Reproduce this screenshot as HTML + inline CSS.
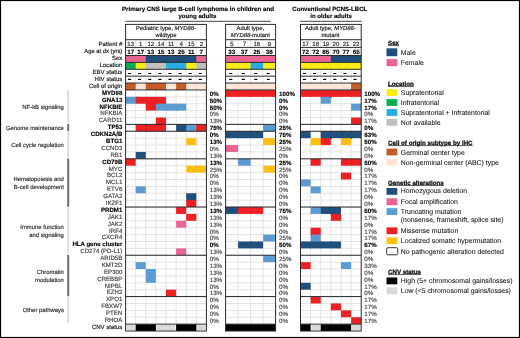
<!DOCTYPE html>
<html><head><meta charset="utf-8"><title>PCNS LBCL oncoprint</title>
<style>html,body{margin:0;padding:0;background:#fff;}body{width:520px;height:338px;overflow:hidden;font-family:"Liberation Sans",sans-serif;}svg{display:block;will-change:transform;text-rendering:geometricPrecision;}</style>
</head><body>
<svg width="520" height="338" viewBox="0 0 520 338" font-family="'Liberation Sans', sans-serif"><rect x="0" y="0" width="520" height="338" fill="#fff"/>
<line x1="135.70" y1="39.70" x2="135.70" y2="331.02" stroke="#e4e4e4" stroke-width="1"/>
<line x1="145.80" y1="39.70" x2="145.80" y2="331.02" stroke="#e4e4e4" stroke-width="1"/>
<line x1="155.90" y1="39.70" x2="155.90" y2="331.02" stroke="#e4e4e4" stroke-width="1"/>
<line x1="166.00" y1="39.70" x2="166.00" y2="331.02" stroke="#e4e4e4" stroke-width="1"/>
<line x1="176.10" y1="39.70" x2="176.10" y2="331.02" stroke="#e4e4e4" stroke-width="1"/>
<line x1="186.20" y1="39.70" x2="186.20" y2="331.02" stroke="#e4e4e4" stroke-width="1"/>
<line x1="196.30" y1="39.70" x2="196.30" y2="331.02" stroke="#e4e4e4" stroke-width="1"/>
<line x1="125.60" y1="96.83" x2="206.40" y2="96.83" stroke="#e4e4e4" stroke-width="1"/>
<line x1="125.60" y1="103.72" x2="206.40" y2="103.72" stroke="#e4e4e4" stroke-width="1"/>
<line x1="125.60" y1="110.60" x2="206.40" y2="110.60" stroke="#e4e4e4" stroke-width="1"/>
<line x1="125.60" y1="117.49" x2="206.40" y2="117.49" stroke="#e4e4e4" stroke-width="1"/>
<line x1="125.60" y1="124.38" x2="206.40" y2="124.38" stroke="#e4e4e4" stroke-width="1"/>
<line x1="125.60" y1="131.27" x2="206.40" y2="131.27" stroke="#e4e4e4" stroke-width="1"/>
<line x1="125.60" y1="138.16" x2="206.40" y2="138.16" stroke="#e4e4e4" stroke-width="1"/>
<line x1="125.60" y1="145.04" x2="206.40" y2="145.04" stroke="#e4e4e4" stroke-width="1"/>
<line x1="125.60" y1="151.93" x2="206.40" y2="151.93" stroke="#e4e4e4" stroke-width="1"/>
<line x1="125.60" y1="158.82" x2="206.40" y2="158.82" stroke="#e4e4e4" stroke-width="1"/>
<line x1="125.60" y1="165.71" x2="206.40" y2="165.71" stroke="#e4e4e4" stroke-width="1"/>
<line x1="125.60" y1="172.60" x2="206.40" y2="172.60" stroke="#e4e4e4" stroke-width="1"/>
<line x1="125.60" y1="179.48" x2="206.40" y2="179.48" stroke="#e4e4e4" stroke-width="1"/>
<line x1="125.60" y1="186.37" x2="206.40" y2="186.37" stroke="#e4e4e4" stroke-width="1"/>
<line x1="125.60" y1="193.26" x2="206.40" y2="193.26" stroke="#e4e4e4" stroke-width="1"/>
<line x1="125.60" y1="200.15" x2="206.40" y2="200.15" stroke="#e4e4e4" stroke-width="1"/>
<line x1="125.60" y1="207.04" x2="206.40" y2="207.04" stroke="#e4e4e4" stroke-width="1"/>
<line x1="125.60" y1="213.92" x2="206.40" y2="213.92" stroke="#e4e4e4" stroke-width="1"/>
<line x1="125.60" y1="220.81" x2="206.40" y2="220.81" stroke="#e4e4e4" stroke-width="1"/>
<line x1="125.60" y1="227.70" x2="206.40" y2="227.70" stroke="#e4e4e4" stroke-width="1"/>
<line x1="125.60" y1="234.59" x2="206.40" y2="234.59" stroke="#e4e4e4" stroke-width="1"/>
<line x1="125.60" y1="241.48" x2="206.40" y2="241.48" stroke="#e4e4e4" stroke-width="1"/>
<line x1="125.60" y1="248.36" x2="206.40" y2="248.36" stroke="#e4e4e4" stroke-width="1"/>
<line x1="125.60" y1="255.25" x2="206.40" y2="255.25" stroke="#e4e4e4" stroke-width="1"/>
<line x1="125.60" y1="262.14" x2="206.40" y2="262.14" stroke="#e4e4e4" stroke-width="1"/>
<line x1="125.60" y1="269.03" x2="206.40" y2="269.03" stroke="#e4e4e4" stroke-width="1"/>
<line x1="125.60" y1="275.92" x2="206.40" y2="275.92" stroke="#e4e4e4" stroke-width="1"/>
<line x1="125.60" y1="282.80" x2="206.40" y2="282.80" stroke="#e4e4e4" stroke-width="1"/>
<line x1="125.60" y1="289.69" x2="206.40" y2="289.69" stroke="#e4e4e4" stroke-width="1"/>
<line x1="125.60" y1="296.58" x2="206.40" y2="296.58" stroke="#e4e4e4" stroke-width="1"/>
<line x1="125.60" y1="303.47" x2="206.40" y2="303.47" stroke="#e4e4e4" stroke-width="1"/>
<line x1="125.60" y1="310.36" x2="206.40" y2="310.36" stroke="#e4e4e4" stroke-width="1"/>
<line x1="125.60" y1="317.24" x2="206.40" y2="317.24" stroke="#e4e4e4" stroke-width="1"/>
<line x1="238.10" y1="39.70" x2="238.10" y2="331.02" stroke="#e4e4e4" stroke-width="1"/>
<line x1="250.60" y1="39.70" x2="250.60" y2="331.02" stroke="#e4e4e4" stroke-width="1"/>
<line x1="263.10" y1="39.70" x2="263.10" y2="331.02" stroke="#e4e4e4" stroke-width="1"/>
<line x1="225.60" y1="96.83" x2="275.60" y2="96.83" stroke="#e4e4e4" stroke-width="1"/>
<line x1="225.60" y1="103.72" x2="275.60" y2="103.72" stroke="#e4e4e4" stroke-width="1"/>
<line x1="225.60" y1="110.60" x2="275.60" y2="110.60" stroke="#e4e4e4" stroke-width="1"/>
<line x1="225.60" y1="117.49" x2="275.60" y2="117.49" stroke="#e4e4e4" stroke-width="1"/>
<line x1="225.60" y1="124.38" x2="275.60" y2="124.38" stroke="#e4e4e4" stroke-width="1"/>
<line x1="225.60" y1="131.27" x2="275.60" y2="131.27" stroke="#e4e4e4" stroke-width="1"/>
<line x1="225.60" y1="138.16" x2="275.60" y2="138.16" stroke="#e4e4e4" stroke-width="1"/>
<line x1="225.60" y1="145.04" x2="275.60" y2="145.04" stroke="#e4e4e4" stroke-width="1"/>
<line x1="225.60" y1="151.93" x2="275.60" y2="151.93" stroke="#e4e4e4" stroke-width="1"/>
<line x1="225.60" y1="158.82" x2="275.60" y2="158.82" stroke="#e4e4e4" stroke-width="1"/>
<line x1="225.60" y1="165.71" x2="275.60" y2="165.71" stroke="#e4e4e4" stroke-width="1"/>
<line x1="225.60" y1="172.60" x2="275.60" y2="172.60" stroke="#e4e4e4" stroke-width="1"/>
<line x1="225.60" y1="179.48" x2="275.60" y2="179.48" stroke="#e4e4e4" stroke-width="1"/>
<line x1="225.60" y1="186.37" x2="275.60" y2="186.37" stroke="#e4e4e4" stroke-width="1"/>
<line x1="225.60" y1="193.26" x2="275.60" y2="193.26" stroke="#e4e4e4" stroke-width="1"/>
<line x1="225.60" y1="200.15" x2="275.60" y2="200.15" stroke="#e4e4e4" stroke-width="1"/>
<line x1="225.60" y1="207.04" x2="275.60" y2="207.04" stroke="#e4e4e4" stroke-width="1"/>
<line x1="225.60" y1="213.92" x2="275.60" y2="213.92" stroke="#e4e4e4" stroke-width="1"/>
<line x1="225.60" y1="220.81" x2="275.60" y2="220.81" stroke="#e4e4e4" stroke-width="1"/>
<line x1="225.60" y1="227.70" x2="275.60" y2="227.70" stroke="#e4e4e4" stroke-width="1"/>
<line x1="225.60" y1="234.59" x2="275.60" y2="234.59" stroke="#e4e4e4" stroke-width="1"/>
<line x1="225.60" y1="241.48" x2="275.60" y2="241.48" stroke="#e4e4e4" stroke-width="1"/>
<line x1="225.60" y1="248.36" x2="275.60" y2="248.36" stroke="#e4e4e4" stroke-width="1"/>
<line x1="225.60" y1="255.25" x2="275.60" y2="255.25" stroke="#e4e4e4" stroke-width="1"/>
<line x1="225.60" y1="262.14" x2="275.60" y2="262.14" stroke="#e4e4e4" stroke-width="1"/>
<line x1="225.60" y1="269.03" x2="275.60" y2="269.03" stroke="#e4e4e4" stroke-width="1"/>
<line x1="225.60" y1="275.92" x2="275.60" y2="275.92" stroke="#e4e4e4" stroke-width="1"/>
<line x1="225.60" y1="282.80" x2="275.60" y2="282.80" stroke="#e4e4e4" stroke-width="1"/>
<line x1="225.60" y1="289.69" x2="275.60" y2="289.69" stroke="#e4e4e4" stroke-width="1"/>
<line x1="225.60" y1="296.58" x2="275.60" y2="296.58" stroke="#e4e4e4" stroke-width="1"/>
<line x1="225.60" y1="303.47" x2="275.60" y2="303.47" stroke="#e4e4e4" stroke-width="1"/>
<line x1="225.60" y1="310.36" x2="275.60" y2="310.36" stroke="#e4e4e4" stroke-width="1"/>
<line x1="225.60" y1="317.24" x2="275.60" y2="317.24" stroke="#e4e4e4" stroke-width="1"/>
<line x1="310.62" y1="39.70" x2="310.62" y2="331.02" stroke="#e4e4e4" stroke-width="1"/>
<line x1="320.73" y1="39.70" x2="320.73" y2="331.02" stroke="#e4e4e4" stroke-width="1"/>
<line x1="330.85" y1="39.70" x2="330.85" y2="331.02" stroke="#e4e4e4" stroke-width="1"/>
<line x1="340.97" y1="39.70" x2="340.97" y2="331.02" stroke="#e4e4e4" stroke-width="1"/>
<line x1="351.08" y1="39.70" x2="351.08" y2="331.02" stroke="#e4e4e4" stroke-width="1"/>
<line x1="300.50" y1="96.83" x2="361.20" y2="96.83" stroke="#e4e4e4" stroke-width="1"/>
<line x1="300.50" y1="103.72" x2="361.20" y2="103.72" stroke="#e4e4e4" stroke-width="1"/>
<line x1="300.50" y1="110.60" x2="361.20" y2="110.60" stroke="#e4e4e4" stroke-width="1"/>
<line x1="300.50" y1="117.49" x2="361.20" y2="117.49" stroke="#e4e4e4" stroke-width="1"/>
<line x1="300.50" y1="124.38" x2="361.20" y2="124.38" stroke="#e4e4e4" stroke-width="1"/>
<line x1="300.50" y1="131.27" x2="361.20" y2="131.27" stroke="#e4e4e4" stroke-width="1"/>
<line x1="300.50" y1="138.16" x2="361.20" y2="138.16" stroke="#e4e4e4" stroke-width="1"/>
<line x1="300.50" y1="145.04" x2="361.20" y2="145.04" stroke="#e4e4e4" stroke-width="1"/>
<line x1="300.50" y1="151.93" x2="361.20" y2="151.93" stroke="#e4e4e4" stroke-width="1"/>
<line x1="300.50" y1="158.82" x2="361.20" y2="158.82" stroke="#e4e4e4" stroke-width="1"/>
<line x1="300.50" y1="165.71" x2="361.20" y2="165.71" stroke="#e4e4e4" stroke-width="1"/>
<line x1="300.50" y1="172.60" x2="361.20" y2="172.60" stroke="#e4e4e4" stroke-width="1"/>
<line x1="300.50" y1="179.48" x2="361.20" y2="179.48" stroke="#e4e4e4" stroke-width="1"/>
<line x1="300.50" y1="186.37" x2="361.20" y2="186.37" stroke="#e4e4e4" stroke-width="1"/>
<line x1="300.50" y1="193.26" x2="361.20" y2="193.26" stroke="#e4e4e4" stroke-width="1"/>
<line x1="300.50" y1="200.15" x2="361.20" y2="200.15" stroke="#e4e4e4" stroke-width="1"/>
<line x1="300.50" y1="207.04" x2="361.20" y2="207.04" stroke="#e4e4e4" stroke-width="1"/>
<line x1="300.50" y1="213.92" x2="361.20" y2="213.92" stroke="#e4e4e4" stroke-width="1"/>
<line x1="300.50" y1="220.81" x2="361.20" y2="220.81" stroke="#e4e4e4" stroke-width="1"/>
<line x1="300.50" y1="227.70" x2="361.20" y2="227.70" stroke="#e4e4e4" stroke-width="1"/>
<line x1="300.50" y1="234.59" x2="361.20" y2="234.59" stroke="#e4e4e4" stroke-width="1"/>
<line x1="300.50" y1="241.48" x2="361.20" y2="241.48" stroke="#e4e4e4" stroke-width="1"/>
<line x1="300.50" y1="248.36" x2="361.20" y2="248.36" stroke="#e4e4e4" stroke-width="1"/>
<line x1="300.50" y1="255.25" x2="361.20" y2="255.25" stroke="#e4e4e4" stroke-width="1"/>
<line x1="300.50" y1="262.14" x2="361.20" y2="262.14" stroke="#e4e4e4" stroke-width="1"/>
<line x1="300.50" y1="269.03" x2="361.20" y2="269.03" stroke="#e4e4e4" stroke-width="1"/>
<line x1="300.50" y1="275.92" x2="361.20" y2="275.92" stroke="#e4e4e4" stroke-width="1"/>
<line x1="300.50" y1="282.80" x2="361.20" y2="282.80" stroke="#e4e4e4" stroke-width="1"/>
<line x1="300.50" y1="289.69" x2="361.20" y2="289.69" stroke="#e4e4e4" stroke-width="1"/>
<line x1="300.50" y1="296.58" x2="361.20" y2="296.58" stroke="#e4e4e4" stroke-width="1"/>
<line x1="300.50" y1="303.47" x2="361.20" y2="303.47" stroke="#e4e4e4" stroke-width="1"/>
<line x1="300.50" y1="310.36" x2="361.20" y2="310.36" stroke="#e4e4e4" stroke-width="1"/>
<line x1="300.50" y1="317.24" x2="361.20" y2="317.24" stroke="#e4e4e4" stroke-width="1"/>
<rect x="125.60" y="55.50" width="11.10" height="6.89" fill="#ea6492" />
<rect x="135.70" y="55.50" width="11.10" height="6.89" fill="#ea6492" />
<rect x="145.80" y="55.50" width="11.10" height="6.89" fill="#1f4f7a" />
<rect x="155.90" y="55.50" width="11.10" height="6.89" fill="#1f4f7a" />
<rect x="166.00" y="55.50" width="11.10" height="6.89" fill="#1f4f7a" />
<rect x="176.10" y="55.50" width="11.10" height="6.89" fill="#1f4f7a" />
<rect x="186.20" y="55.50" width="11.10" height="6.89" fill="#1f4f7a" />
<rect x="196.30" y="55.50" width="10.10" height="6.89" fill="#ea6492" />
<rect x="125.60" y="62.39" width="11.10" height="6.89" fill="#08ae4e" />
<rect x="135.70" y="62.39" width="11.10" height="6.89" fill="#f7ec16" />
<rect x="145.80" y="62.39" width="11.10" height="6.89" fill="#c0c0c0" />
<rect x="155.90" y="62.39" width="11.10" height="6.89" fill="#c0c0c0" />
<rect x="166.00" y="62.39" width="11.10" height="6.89" fill="#2cace4" />
<rect x="176.10" y="62.39" width="11.10" height="6.89" fill="#2cace4" />
<rect x="186.20" y="62.39" width="11.10" height="6.89" fill="#f7ec16" />
<rect x="196.30" y="62.39" width="10.10" height="6.89" fill="#c0c0c0" />
<rect x="125.60" y="83.05" width="10.10" height="6.89" fill="#c85c26" />
<rect x="145.80" y="83.05" width="11.10" height="6.89" fill="#c85c26" />
<rect x="155.90" y="83.05" width="10.10" height="6.89" fill="#c85c26" />
<rect x="176.10" y="83.05" width="10.10" height="6.89" fill="#c85c26" />
<rect x="125.60" y="96.83" width="11.10" height="6.89" fill="#5c9bd2" />
<rect x="135.70" y="96.83" width="11.10" height="6.89" fill="#ed2024" />
<rect x="145.80" y="96.83" width="11.10" height="7.89" fill="#ed2024" />
<rect x="155.90" y="96.83" width="10.10" height="7.89" fill="#ed2024" />
<rect x="145.80" y="103.72" width="11.10" height="6.89" fill="#ed2024" />
<rect x="155.90" y="103.72" width="11.10" height="6.89" fill="#5c9bd2" />
<rect x="166.00" y="103.72" width="11.10" height="6.89" fill="#5c9bd2" />
<rect x="176.10" y="103.72" width="10.10" height="6.89" fill="#5c9bd2" />
<rect x="155.90" y="117.49" width="10.10" height="7.89" fill="#ed2024" />
<rect x="135.70" y="124.38" width="11.10" height="6.89" fill="#ed2024" />
<rect x="145.80" y="124.38" width="11.10" height="6.89" fill="#ed2024" />
<rect x="155.90" y="124.38" width="10.10" height="6.89" fill="#ed2024" />
<rect x="176.10" y="124.38" width="11.10" height="6.89" fill="#1f4f7a" />
<rect x="186.20" y="124.38" width="11.10" height="6.89" fill="#5c9bd2" />
<rect x="196.30" y="124.38" width="10.10" height="6.89" fill="#ed2024" />
<rect x="186.20" y="138.16" width="10.10" height="6.89" fill="#fec010" />
<rect x="135.70" y="151.93" width="10.10" height="6.89" fill="#1f4f7a" />
<rect x="125.60" y="158.82" width="10.10" height="6.89" fill="#ed2024" />
<rect x="186.20" y="165.71" width="11.10" height="6.89" fill="#fec010" />
<rect x="196.30" y="165.71" width="10.10" height="6.89" fill="#fec010" />
<rect x="135.70" y="186.37" width="10.10" height="6.89" fill="#5c9bd2" />
<rect x="186.20" y="193.26" width="10.10" height="7.89" fill="#1f4f7a" />
<rect x="186.20" y="200.15" width="10.10" height="6.89" fill="#ed2024" />
<rect x="176.10" y="207.04" width="10.10" height="6.89" fill="#ed2024" />
<rect x="186.20" y="213.92" width="10.10" height="6.89" fill="#ed2024" />
<rect x="176.10" y="220.81" width="10.10" height="6.89" fill="#ea6492" />
<rect x="176.10" y="248.36" width="10.10" height="6.89" fill="#ea6492" />
<rect x="135.70" y="262.14" width="10.10" height="6.89" fill="#5c9bd2" />
<rect x="145.80" y="269.03" width="10.10" height="7.89" fill="#5c9bd2" />
<rect x="145.80" y="275.92" width="10.10" height="6.89" fill="#5c9bd2" />
<rect x="166.00" y="289.69" width="10.10" height="6.89" fill="#ed2024" />
<rect x="135.70" y="324.13" width="11.10" height="6.89" fill="#000000" />
<rect x="145.80" y="324.13" width="10.10" height="6.89" fill="#000000" />
<rect x="176.10" y="324.13" width="11.10" height="6.89" fill="#000000" />
<rect x="186.20" y="324.13" width="10.10" height="6.89" fill="#000000" />
<rect x="136.50" y="83.85" width="8.50" height="5.29" fill="#fde4d6" />
<rect x="166.80" y="83.85" width="8.50" height="5.29" fill="#fde4d6" />
<rect x="187.00" y="83.85" width="18.60" height="5.29" fill="#fde4d6" />
<rect x="126.40" y="324.93" width="8.50" height="5.29" fill="#d9d9d9" />
<rect x="156.70" y="324.93" width="18.60" height="5.29" fill="#d9d9d9" />
<rect x="197.10" y="324.93" width="8.50" height="5.29" fill="#d9d9d9" />
<rect x="225.60" y="55.50" width="13.50" height="6.89" fill="#ea6492" />
<rect x="238.10" y="55.50" width="13.50" height="6.89" fill="#ea6492" />
<rect x="250.60" y="55.50" width="13.50" height="6.89" fill="#ea6492" />
<rect x="263.10" y="55.50" width="12.50" height="6.89" fill="#ea6492" />
<rect x="225.60" y="62.39" width="13.50" height="6.89" fill="#f7ec16" />
<rect x="238.10" y="62.39" width="13.50" height="6.89" fill="#f7ec16" />
<rect x="250.60" y="62.39" width="13.50" height="6.89" fill="#2cace4" />
<rect x="263.10" y="62.39" width="12.50" height="6.89" fill="#f7ec16" />
<rect x="225.60" y="89.94" width="13.50" height="6.89" fill="#ed2024" />
<rect x="238.10" y="89.94" width="13.50" height="6.89" fill="#ed2024" />
<rect x="250.60" y="89.94" width="13.50" height="6.89" fill="#ed2024" />
<rect x="263.10" y="89.94" width="12.50" height="6.89" fill="#ed2024" />
<rect x="263.10" y="124.38" width="12.50" height="6.89" fill="#5c9bd2" />
<rect x="225.60" y="131.27" width="13.50" height="6.89" fill="#1f4f7a" />
<rect x="238.10" y="131.27" width="13.50" height="6.89" fill="#1f4f7a" />
<rect x="250.60" y="131.27" width="12.50" height="6.89" fill="#1f4f7a" />
<rect x="263.10" y="138.16" width="12.50" height="6.89" fill="#fec010" />
<rect x="225.60" y="145.04" width="12.50" height="6.89" fill="#ea6492" />
<rect x="238.10" y="158.82" width="12.50" height="6.89" fill="#5c9bd2" />
<rect x="263.10" y="165.71" width="12.50" height="6.89" fill="#fec010" />
<rect x="225.60" y="207.04" width="13.50" height="6.89" fill="#1f4f7a" />
<rect x="238.10" y="207.04" width="13.50" height="6.89" fill="#ed2024" />
<rect x="250.60" y="207.04" width="12.50" height="6.89" fill="#ed2024" />
<rect x="263.10" y="234.59" width="12.50" height="6.89" fill="#5c9bd2" />
<rect x="238.10" y="241.48" width="13.50" height="6.89" fill="#1f4f7a" />
<rect x="250.60" y="241.48" width="12.50" height="6.89" fill="#1f4f7a" />
<rect x="263.10" y="255.25" width="12.50" height="6.89" fill="#5c9bd2" />
<rect x="225.60" y="324.13" width="13.50" height="6.89" fill="#000000" />
<rect x="238.10" y="324.13" width="13.50" height="6.89" fill="#000000" />
<rect x="250.60" y="324.13" width="13.50" height="6.89" fill="#000000" />
<rect x="263.10" y="324.13" width="12.50" height="6.89" fill="#000000" />
<rect x="226.40" y="83.85" width="48.40" height="5.29" fill="#fde4d6" />
<rect x="300.50" y="55.50" width="11.12" height="6.89" fill="#ea6492" />
<rect x="310.62" y="55.50" width="11.12" height="6.89" fill="#ea6492" />
<rect x="320.73" y="55.50" width="11.12" height="6.89" fill="#ea6492" />
<rect x="330.85" y="55.50" width="11.12" height="6.89" fill="#1f4f7a" />
<rect x="340.97" y="55.50" width="11.12" height="6.89" fill="#1f4f7a" />
<rect x="351.08" y="55.50" width="10.12" height="6.89" fill="#1f4f7a" />
<rect x="300.50" y="62.39" width="11.12" height="6.89" fill="#f7ec16" />
<rect x="310.62" y="62.39" width="11.12" height="6.89" fill="#f7ec16" />
<rect x="320.73" y="62.39" width="11.12" height="6.89" fill="#f7ec16" />
<rect x="330.85" y="62.39" width="11.12" height="6.89" fill="#f7ec16" />
<rect x="340.97" y="62.39" width="11.12" height="6.89" fill="#f7ec16" />
<rect x="351.08" y="62.39" width="10.12" height="6.89" fill="#f7ec16" />
<rect x="351.08" y="83.05" width="10.12" height="6.89" fill="#c85c26" />
<rect x="300.50" y="89.94" width="11.12" height="6.89" fill="#ed2024" />
<rect x="310.62" y="89.94" width="11.12" height="6.89" fill="#ed2024" />
<rect x="320.73" y="89.94" width="11.12" height="7.89" fill="#ed2024" />
<rect x="330.85" y="89.94" width="11.12" height="6.89" fill="#ed2024" />
<rect x="340.97" y="89.94" width="11.12" height="6.89" fill="#ed2024" />
<rect x="351.08" y="89.94" width="10.12" height="6.89" fill="#ed2024" />
<rect x="320.73" y="96.83" width="10.12" height="6.89" fill="#5c9bd2" />
<rect x="351.08" y="103.72" width="10.12" height="6.89" fill="#5c9bd2" />
<rect x="351.08" y="117.49" width="10.12" height="6.89" fill="#ed2024" />
<rect x="300.50" y="131.27" width="10.12" height="6.89" fill="#1f4f7a" />
<rect x="320.73" y="131.27" width="11.12" height="7.89" fill="#1f4f7a" />
<rect x="330.85" y="131.27" width="11.12" height="6.89" fill="#1f4f7a" />
<rect x="340.97" y="131.27" width="11.12" height="7.89" fill="#1f4f7a" />
<rect x="351.08" y="131.27" width="10.12" height="6.89" fill="#1f4f7a" />
<rect x="310.62" y="138.16" width="11.12" height="6.89" fill="#fec010" />
<rect x="320.73" y="138.16" width="10.12" height="6.89" fill="#ed2024" />
<rect x="340.97" y="138.16" width="10.12" height="6.89" fill="#fec010" />
<rect x="310.62" y="158.82" width="10.12" height="6.89" fill="#ed2024" />
<rect x="340.97" y="158.82" width="11.12" height="6.89" fill="#ed2024" />
<rect x="351.08" y="158.82" width="10.12" height="6.89" fill="#ed2024" />
<rect x="340.97" y="172.60" width="10.12" height="6.89" fill="#ed2024" />
<rect x="300.50" y="179.48" width="10.12" height="6.89" fill="#5c9bd2" />
<rect x="310.62" y="186.37" width="10.12" height="6.89" fill="#5c9bd2" />
<rect x="310.62" y="207.04" width="11.12" height="6.89" fill="#5c9bd2" />
<rect x="320.73" y="207.04" width="11.12" height="6.89" fill="#1f4f7a" />
<rect x="330.85" y="207.04" width="10.12" height="7.89" fill="#1f4f7a" />
<rect x="330.85" y="213.92" width="10.12" height="6.89" fill="#ed2024" />
<rect x="310.62" y="227.70" width="10.12" height="7.89" fill="#ed2024" />
<rect x="310.62" y="234.59" width="10.12" height="7.89" fill="#5c9bd2" />
<rect x="300.50" y="241.48" width="11.12" height="6.89" fill="#1f4f7a" />
<rect x="310.62" y="241.48" width="11.12" height="6.89" fill="#1f4f7a" />
<rect x="320.73" y="241.48" width="11.12" height="6.89" fill="#1f4f7a" />
<rect x="330.85" y="241.48" width="10.12" height="6.89" fill="#1f4f7a" />
<rect x="300.50" y="262.14" width="10.12" height="6.89" fill="#ed2024" />
<rect x="340.97" y="262.14" width="10.12" height="6.89" fill="#5c9bd2" />
<rect x="300.50" y="282.80" width="10.12" height="6.89" fill="#1f4f7a" />
<rect x="310.62" y="296.58" width="10.12" height="6.89" fill="#ed2024" />
<rect x="330.85" y="303.47" width="10.12" height="6.89" fill="#ed2024" />
<rect x="340.97" y="310.36" width="10.12" height="6.89" fill="#ed2024" />
<rect x="351.08" y="317.24" width="10.12" height="6.89" fill="#ed2024" />
<rect x="300.50" y="324.13" width="10.12" height="6.89" fill="#000000" />
<rect x="320.73" y="324.13" width="11.12" height="6.89" fill="#000000" />
<rect x="330.85" y="324.13" width="11.12" height="6.89" fill="#000000" />
<rect x="340.97" y="324.13" width="10.12" height="6.89" fill="#000000" />
<rect x="301.30" y="83.85" width="48.98" height="5.29" fill="#fde4d6" />
<rect x="311.42" y="324.93" width="8.52" height="5.29" fill="#d9d9d9" />
<rect x="351.88" y="324.93" width="8.52" height="5.29" fill="#d9d9d9" />
<rect x="125.60" y="24.40" width="80.80" height="306.62" fill="none" stroke="#2b2b2b" stroke-width="1"/>
<line x1="125.60" y1="39.70" x2="206.40" y2="39.70" stroke="#2b2b2b" stroke-width="1.0"/>
<line x1="125.60" y1="47.40" x2="206.40" y2="47.40" stroke="#2b2b2b" stroke-width="1.0"/>
<line x1="125.60" y1="55.50" x2="206.40" y2="55.50" stroke="#2b2b2b" stroke-width="1.0"/>
<line x1="125.60" y1="62.39" x2="206.40" y2="62.39" stroke="#2b2b2b" stroke-width="1.0"/>
<line x1="125.60" y1="69.28" x2="206.40" y2="69.28" stroke="#2b2b2b" stroke-width="1.0"/>
<line x1="125.60" y1="76.16" x2="206.40" y2="76.16" stroke="#2b2b2b" stroke-width="1.0"/>
<line x1="125.60" y1="83.05" x2="206.40" y2="83.05" stroke="#2b2b2b" stroke-width="1.0"/>
<line x1="125.60" y1="89.94" x2="206.40" y2="89.94" stroke="#2b2b2b" stroke-width="1.0"/>
<line x1="125.60" y1="124.38" x2="206.40" y2="124.38" stroke="#2b2b2b" stroke-width="1.0"/>
<line x1="125.60" y1="131.27" x2="206.40" y2="131.27" stroke="#2b2b2b" stroke-width="1.0"/>
<line x1="125.60" y1="158.82" x2="206.40" y2="158.82" stroke="#2b2b2b" stroke-width="1.0"/>
<line x1="125.60" y1="207.04" x2="206.40" y2="207.04" stroke="#2b2b2b" stroke-width="1.0"/>
<line x1="125.60" y1="255.25" x2="206.40" y2="255.25" stroke="#2b2b2b" stroke-width="1.0"/>
<line x1="125.60" y1="296.58" x2="206.40" y2="296.58" stroke="#2b2b2b" stroke-width="1.0"/>
<line x1="125.60" y1="324.13" x2="206.40" y2="324.13" stroke="#2b2b2b" stroke-width="1.0"/>
<rect x="225.60" y="24.40" width="50.00" height="306.62" fill="none" stroke="#2b2b2b" stroke-width="1"/>
<line x1="225.60" y1="39.70" x2="275.60" y2="39.70" stroke="#2b2b2b" stroke-width="1.0"/>
<line x1="225.60" y1="47.40" x2="275.60" y2="47.40" stroke="#2b2b2b" stroke-width="1.0"/>
<line x1="225.60" y1="55.50" x2="275.60" y2="55.50" stroke="#2b2b2b" stroke-width="1.0"/>
<line x1="225.60" y1="62.39" x2="275.60" y2="62.39" stroke="#2b2b2b" stroke-width="1.0"/>
<line x1="225.60" y1="69.28" x2="275.60" y2="69.28" stroke="#2b2b2b" stroke-width="1.0"/>
<line x1="225.60" y1="76.16" x2="275.60" y2="76.16" stroke="#2b2b2b" stroke-width="1.0"/>
<line x1="225.60" y1="83.05" x2="275.60" y2="83.05" stroke="#2b2b2b" stroke-width="1.0"/>
<line x1="225.60" y1="89.94" x2="275.60" y2="89.94" stroke="#2b2b2b" stroke-width="1.0"/>
<line x1="225.60" y1="124.38" x2="275.60" y2="124.38" stroke="#2b2b2b" stroke-width="1.0"/>
<line x1="225.60" y1="131.27" x2="275.60" y2="131.27" stroke="#2b2b2b" stroke-width="1.0"/>
<line x1="225.60" y1="158.82" x2="275.60" y2="158.82" stroke="#2b2b2b" stroke-width="1.0"/>
<line x1="225.60" y1="207.04" x2="275.60" y2="207.04" stroke="#2b2b2b" stroke-width="1.0"/>
<line x1="225.60" y1="255.25" x2="275.60" y2="255.25" stroke="#2b2b2b" stroke-width="1.0"/>
<line x1="225.60" y1="296.58" x2="275.60" y2="296.58" stroke="#2b2b2b" stroke-width="1.0"/>
<line x1="225.60" y1="324.13" x2="275.60" y2="324.13" stroke="#2b2b2b" stroke-width="1.0"/>
<rect x="300.50" y="24.40" width="60.70" height="306.62" fill="none" stroke="#2b2b2b" stroke-width="1"/>
<line x1="300.50" y1="39.70" x2="361.20" y2="39.70" stroke="#2b2b2b" stroke-width="1.0"/>
<line x1="300.50" y1="47.40" x2="361.20" y2="47.40" stroke="#2b2b2b" stroke-width="1.0"/>
<line x1="300.50" y1="55.50" x2="361.20" y2="55.50" stroke="#2b2b2b" stroke-width="1.0"/>
<line x1="300.50" y1="62.39" x2="361.20" y2="62.39" stroke="#2b2b2b" stroke-width="1.0"/>
<line x1="300.50" y1="69.28" x2="361.20" y2="69.28" stroke="#2b2b2b" stroke-width="1.0"/>
<line x1="300.50" y1="76.16" x2="361.20" y2="76.16" stroke="#2b2b2b" stroke-width="1.0"/>
<line x1="300.50" y1="83.05" x2="361.20" y2="83.05" stroke="#2b2b2b" stroke-width="1.0"/>
<line x1="300.50" y1="89.94" x2="361.20" y2="89.94" stroke="#2b2b2b" stroke-width="1.0"/>
<line x1="300.50" y1="124.38" x2="361.20" y2="124.38" stroke="#2b2b2b" stroke-width="1.0"/>
<line x1="300.50" y1="131.27" x2="361.20" y2="131.27" stroke="#2b2b2b" stroke-width="1.0"/>
<line x1="300.50" y1="158.82" x2="361.20" y2="158.82" stroke="#2b2b2b" stroke-width="1.0"/>
<line x1="300.50" y1="207.04" x2="361.20" y2="207.04" stroke="#2b2b2b" stroke-width="1.0"/>
<line x1="300.50" y1="255.25" x2="361.20" y2="255.25" stroke="#2b2b2b" stroke-width="1.0"/>
<line x1="300.50" y1="296.58" x2="361.20" y2="296.58" stroke="#2b2b2b" stroke-width="1.0"/>
<line x1="300.50" y1="324.13" x2="361.20" y2="324.13" stroke="#2b2b2b" stroke-width="1.0"/>
<g font-family="'Liberation Sans', sans-serif">
<text x="166.00" y="30.20" font-size="5.85" font-weight="normal" text-anchor="middle" fill="#222" stroke="#222" stroke-width="0.18" >Pediatric type, <tspan font-style="italic">MYD88</tspan>-</text>
<text x="166.00" y="36.60" font-size="5.85" font-weight="normal" text-anchor="middle" fill="#222" stroke="#222" stroke-width="0.18" >wildtype</text>
<text x="250.30" y="30.20" font-size="5.85" font-weight="normal" text-anchor="middle" fill="#222" stroke="#222" stroke-width="0.18" >Adult type,</text>
<text x="250.30" y="36.60" font-size="5.85" font-weight="normal" text-anchor="middle" fill="#222" stroke="#222" stroke-width="0.18" ><tspan font-style="italic">MYD88</tspan>-mutant</text>
<text x="330.40" y="30.20" font-size="5.85" font-weight="normal" text-anchor="middle" fill="#222" stroke="#222" stroke-width="0.18" >Adult type, <tspan font-style="italic">MYD88</tspan>-</text>
<text x="330.40" y="36.60" font-size="5.85" font-weight="normal" text-anchor="middle" fill="#222" stroke="#222" stroke-width="0.18" >mutant</text>
<text x="130.65" y="45.60" font-size="6.1" font-weight="normal" text-anchor="middle" fill="#333" stroke="#333" stroke-width="0.18" >13</text>
<text x="130.65" y="53.60" font-size="6.25" font-weight="bold" text-anchor="middle" fill="#000" stroke="#000" stroke-width="0.14" >17</text>
<rect x="127.90" y="72.90" width="3.30" height="1.10" fill="#000" rx="0.55"/>
<rect x="127.90" y="78.85" width="3.30" height="1.10" fill="#000" rx="0.55"/>
<text x="140.75" y="45.60" font-size="6.1" font-weight="normal" text-anchor="middle" fill="#333" stroke="#333" stroke-width="0.18" >1</text>
<text x="140.75" y="53.60" font-size="6.25" font-weight="bold" text-anchor="middle" fill="#000" stroke="#000" stroke-width="0.14" >17</text>
<rect x="138.00" y="72.90" width="3.30" height="1.10" fill="#000" rx="0.55"/>
<rect x="138.00" y="78.85" width="3.30" height="1.10" fill="#000" rx="0.55"/>
<text x="150.85" y="45.60" font-size="6.1" font-weight="normal" text-anchor="middle" fill="#333" stroke="#333" stroke-width="0.18" >12</text>
<text x="150.85" y="53.60" font-size="6.25" font-weight="bold" text-anchor="middle" fill="#000" stroke="#000" stroke-width="0.14" >13</text>
<rect x="148.10" y="72.90" width="3.30" height="1.10" fill="#000" rx="0.55"/>
<rect x="148.10" y="78.85" width="3.30" height="1.10" fill="#000" rx="0.55"/>
<text x="160.95" y="45.60" font-size="6.1" font-weight="normal" text-anchor="middle" fill="#333" stroke="#333" stroke-width="0.18" >14</text>
<text x="160.95" y="53.60" font-size="6.25" font-weight="bold" text-anchor="middle" fill="#000" stroke="#000" stroke-width="0.14" >15</text>
<rect x="158.20" y="72.90" width="3.30" height="1.10" fill="#000" rx="0.55"/>
<rect x="158.20" y="78.85" width="3.30" height="1.10" fill="#000" rx="0.55"/>
<text x="171.05" y="45.60" font-size="6.1" font-weight="normal" text-anchor="middle" fill="#333" stroke="#333" stroke-width="0.18" >11</text>
<text x="171.05" y="53.60" font-size="6.25" font-weight="bold" text-anchor="middle" fill="#000" stroke="#000" stroke-width="0.14" >13</text>
<rect x="168.30" y="72.90" width="3.30" height="1.10" fill="#000" rx="0.55"/>
<rect x="168.30" y="78.85" width="3.30" height="1.10" fill="#000" rx="0.55"/>
<text x="181.15" y="45.60" font-size="6.1" font-weight="normal" text-anchor="middle" fill="#333" stroke="#333" stroke-width="0.18" >4</text>
<text x="181.15" y="53.60" font-size="6.25" font-weight="bold" text-anchor="middle" fill="#000" stroke="#000" stroke-width="0.14" >25</text>
<rect x="178.40" y="72.90" width="3.30" height="1.10" fill="#000" rx="0.55"/>
<rect x="178.40" y="78.85" width="3.30" height="1.10" fill="#000" rx="0.55"/>
<text x="191.25" y="45.60" font-size="6.1" font-weight="normal" text-anchor="middle" fill="#333" stroke="#333" stroke-width="0.18" >15</text>
<text x="191.25" y="53.60" font-size="6.25" font-weight="bold" text-anchor="middle" fill="#000" stroke="#000" stroke-width="0.14" >11</text>
<rect x="188.50" y="72.90" width="3.30" height="1.10" fill="#000" rx="0.55"/>
<rect x="188.50" y="78.85" width="3.30" height="1.10" fill="#000" rx="0.55"/>
<text x="201.35" y="45.60" font-size="6.1" font-weight="normal" text-anchor="middle" fill="#333" stroke="#333" stroke-width="0.18" >2</text>
<text x="201.35" y="53.60" font-size="6.25" font-weight="bold" text-anchor="middle" fill="#000" stroke="#000" stroke-width="0.14" >7</text>
<rect x="198.60" y="72.90" width="3.30" height="1.10" fill="#000" rx="0.55"/>
<rect x="198.60" y="78.85" width="3.30" height="1.10" fill="#000" rx="0.55"/>
<text x="231.85" y="45.60" font-size="6.1" font-weight="normal" text-anchor="middle" fill="#333" stroke="#333" stroke-width="0.18" >5</text>
<text x="231.85" y="53.60" font-size="6.25" font-weight="bold" text-anchor="middle" fill="#000" stroke="#000" stroke-width="0.14" >33</text>
<rect x="229.10" y="72.90" width="3.30" height="1.10" fill="#000" rx="0.55"/>
<rect x="229.10" y="78.85" width="3.30" height="1.10" fill="#000" rx="0.55"/>
<text x="244.35" y="45.60" font-size="6.1" font-weight="normal" text-anchor="middle" fill="#333" stroke="#333" stroke-width="0.18" >7</text>
<text x="244.35" y="53.60" font-size="6.25" font-weight="bold" text-anchor="middle" fill="#000" stroke="#000" stroke-width="0.14" >37</text>
<rect x="241.60" y="72.90" width="3.30" height="1.10" fill="#000" rx="0.55"/>
<rect x="241.60" y="78.85" width="3.30" height="1.10" fill="#000" rx="0.55"/>
<text x="256.85" y="45.60" font-size="6.1" font-weight="normal" text-anchor="middle" fill="#333" stroke="#333" stroke-width="0.18" >16</text>
<text x="256.85" y="53.60" font-size="6.25" font-weight="bold" text-anchor="middle" fill="#000" stroke="#000" stroke-width="0.14" >25</text>
<rect x="254.10" y="72.90" width="3.30" height="1.10" fill="#000" rx="0.55"/>
<rect x="254.10" y="78.85" width="3.30" height="1.10" fill="#000" rx="0.55"/>
<text x="269.35" y="45.60" font-size="6.1" font-weight="normal" text-anchor="middle" fill="#333" stroke="#333" stroke-width="0.18" >9</text>
<text x="269.35" y="53.60" font-size="6.25" font-weight="bold" text-anchor="middle" fill="#000" stroke="#000" stroke-width="0.14" >38</text>
<rect x="266.60" y="72.90" width="3.30" height="1.10" fill="#000" rx="0.55"/>
<rect x="266.60" y="78.85" width="3.30" height="1.10" fill="#000" rx="0.55"/>
<text x="305.56" y="45.60" font-size="6.1" font-weight="normal" text-anchor="middle" fill="#333" stroke="#333" stroke-width="0.18" >17</text>
<text x="305.56" y="53.60" font-size="6.25" font-weight="bold" text-anchor="middle" fill="#000" stroke="#000" stroke-width="0.14" >72</text>
<rect x="302.81" y="72.90" width="3.30" height="1.10" fill="#000" rx="0.55"/>
<rect x="302.81" y="78.85" width="3.30" height="1.10" fill="#000" rx="0.55"/>
<text x="315.68" y="45.60" font-size="6.1" font-weight="normal" text-anchor="middle" fill="#333" stroke="#333" stroke-width="0.18" >18</text>
<text x="315.68" y="53.60" font-size="6.25" font-weight="bold" text-anchor="middle" fill="#000" stroke="#000" stroke-width="0.14" >72</text>
<rect x="312.93" y="72.90" width="3.30" height="1.10" fill="#000" rx="0.55"/>
<rect x="312.93" y="78.85" width="3.30" height="1.10" fill="#000" rx="0.55"/>
<text x="325.79" y="45.60" font-size="6.1" font-weight="normal" text-anchor="middle" fill="#333" stroke="#333" stroke-width="0.18" >19</text>
<text x="325.79" y="53.60" font-size="6.25" font-weight="bold" text-anchor="middle" fill="#000" stroke="#000" stroke-width="0.14" >85</text>
<rect x="323.04" y="72.90" width="3.30" height="1.10" fill="#000" rx="0.55"/>
<rect x="323.04" y="78.85" width="3.30" height="1.10" fill="#000" rx="0.55"/>
<text x="335.91" y="45.60" font-size="6.1" font-weight="normal" text-anchor="middle" fill="#333" stroke="#333" stroke-width="0.18" >20</text>
<text x="335.91" y="53.60" font-size="6.25" font-weight="bold" text-anchor="middle" fill="#000" stroke="#000" stroke-width="0.14" >70</text>
<rect x="333.16" y="72.90" width="3.30" height="1.10" fill="#000" rx="0.55"/>
<rect x="333.16" y="78.85" width="3.30" height="1.10" fill="#000" rx="0.55"/>
<text x="346.02" y="45.60" font-size="6.1" font-weight="normal" text-anchor="middle" fill="#333" stroke="#333" stroke-width="0.18" >21</text>
<text x="346.02" y="53.60" font-size="6.25" font-weight="bold" text-anchor="middle" fill="#000" stroke="#000" stroke-width="0.14" >77</text>
<rect x="343.27" y="72.90" width="3.30" height="1.10" fill="#000" rx="0.55"/>
<rect x="343.27" y="78.85" width="3.30" height="1.10" fill="#000" rx="0.55"/>
<text x="356.14" y="45.60" font-size="6.1" font-weight="normal" text-anchor="middle" fill="#333" stroke="#333" stroke-width="0.18" >22</text>
<text x="356.14" y="53.60" font-size="6.25" font-weight="bold" text-anchor="middle" fill="#000" stroke="#000" stroke-width="0.14" >65</text>
<rect x="353.39" y="72.90" width="3.30" height="1.10" fill="#000" rx="0.55"/>
<rect x="353.39" y="78.85" width="3.30" height="1.10" fill="#000" rx="0.55"/>
<text x="198.00" y="11.00" font-size="6.22" font-weight="bold" text-anchor="middle" fill="#000" stroke="#000" stroke-width="0.14" >Primary CNS large B-cell lymphoma in children and</text>
<text x="197.40" y="17.90" font-size="6.1" font-weight="bold" text-anchor="middle" fill="#000" stroke="#000" stroke-width="0.14" >young adults</text>
<text x="329.80" y="11.00" font-size="6.05" font-weight="bold" text-anchor="middle" fill="#000" stroke="#000" stroke-width="0.14" >Conventional PCNS-LBCL</text>
<text x="331.10" y="17.90" font-size="6.1" font-weight="bold" text-anchor="middle" fill="#000" stroke="#000" stroke-width="0.14" >in older adults</text>
<line x1="125.30" y1="21.30" x2="270.80" y2="21.30" stroke="#444" stroke-width="1"/>
<line x1="300.00" y1="21.30" x2="361.50" y2="21.30" stroke="#444" stroke-width="1"/>
<text x="122.30" y="45.70" font-size="6.0" font-weight="normal" text-anchor="end" fill="#222" stroke="#222" stroke-width="0.18" >Patient #</text>
<text x="122.30" y="53.40" font-size="5.85" font-weight="normal" text-anchor="end" fill="#222" stroke="#222" stroke-width="0.18" >Age at dx (yrs)</text>
<text x="122.30" y="60.30" font-size="6.0" font-weight="normal" text-anchor="end" fill="#222" stroke="#222" stroke-width="0.18" >Sex</text>
<text x="122.30" y="67.19" font-size="6.0" font-weight="normal" text-anchor="end" fill="#222" stroke="#222" stroke-width="0.18" >Location</text>
<text x="122.30" y="74.08" font-size="6.0" font-weight="normal" text-anchor="end" fill="#222" stroke="#222" stroke-width="0.18" >EBV status</text>
<text x="122.30" y="80.96" font-size="6.0" font-weight="normal" text-anchor="end" fill="#222" stroke="#222" stroke-width="0.18" >HIV status</text>
<text x="122.30" y="87.85" font-size="6.0" font-weight="normal" text-anchor="end" fill="#222" stroke="#222" stroke-width="0.18" >Cell of origin</text>
<text x="122.30" y="94.74" font-size="6.1" font-weight="bold" text-anchor="end" fill="#000" stroke="#000" stroke-width="0.14" >MYD88</text>
<text x="122.30" y="101.63" font-size="6.1" font-weight="bold" text-anchor="end" fill="#000" stroke="#000" stroke-width="0.14" >GNA13</text>
<text x="122.30" y="108.52" font-size="6.1" font-weight="bold" text-anchor="end" fill="#000" stroke="#000" stroke-width="0.14" >NFKBIE</text>
<text x="122.30" y="115.40" font-size="6.1" font-weight="normal" text-anchor="end" fill="#4a4a4a" stroke="#4a4a4a" stroke-width="0.18" >NFKBIA</text>
<text x="122.30" y="122.29" font-size="6.1" font-weight="normal" text-anchor="end" fill="#4a4a4a" stroke="#4a4a4a" stroke-width="0.18" >CARD11</text>
<text x="122.30" y="129.18" font-size="6.1" font-weight="bold" text-anchor="end" fill="#000" stroke="#000" stroke-width="0.14" >TP53</text>
<text x="122.30" y="136.07" font-size="6.1" font-weight="bold" text-anchor="end" fill="#000" stroke="#000" stroke-width="0.14" >CDKN2A/B</text>
<text x="122.30" y="142.96" font-size="6.1" font-weight="bold" text-anchor="end" fill="#000" stroke="#000" stroke-width="0.14" >BTG1</text>
<text x="122.30" y="149.84" font-size="6.1" font-weight="normal" text-anchor="end" fill="#4a4a4a" stroke="#4a4a4a" stroke-width="0.18" >CCND3</text>
<text x="122.30" y="156.73" font-size="6.1" font-weight="normal" text-anchor="end" fill="#4a4a4a" stroke="#4a4a4a" stroke-width="0.18" >RB1</text>
<text x="122.30" y="163.62" font-size="6.1" font-weight="bold" text-anchor="end" fill="#000" stroke="#000" stroke-width="0.14" >CD79B</text>
<text x="122.30" y="170.51" font-size="6.1" font-weight="normal" text-anchor="end" fill="#4a4a4a" stroke="#4a4a4a" stroke-width="0.18" >MYC</text>
<text x="122.30" y="177.40" font-size="6.1" font-weight="normal" text-anchor="end" fill="#4a4a4a" stroke="#4a4a4a" stroke-width="0.18" >BCL2</text>
<text x="122.30" y="184.28" font-size="6.1" font-weight="normal" text-anchor="end" fill="#4a4a4a" stroke="#4a4a4a" stroke-width="0.18" >MCL1</text>
<text x="122.30" y="191.17" font-size="6.1" font-weight="normal" text-anchor="end" fill="#4a4a4a" stroke="#4a4a4a" stroke-width="0.18" >ETV6</text>
<text x="122.30" y="198.06" font-size="6.1" font-weight="normal" text-anchor="end" fill="#4a4a4a" stroke="#4a4a4a" stroke-width="0.18" >GATA2</text>
<text x="122.30" y="204.95" font-size="6.1" font-weight="normal" text-anchor="end" fill="#4a4a4a" stroke="#4a4a4a" stroke-width="0.18" >IKZF1</text>
<text x="122.30" y="211.84" font-size="6.1" font-weight="bold" text-anchor="end" fill="#000" stroke="#000" stroke-width="0.14" >PRDM1</text>
<text x="122.30" y="218.72" font-size="6.1" font-weight="normal" text-anchor="end" fill="#4a4a4a" stroke="#4a4a4a" stroke-width="0.18" >JAK1</text>
<text x="122.30" y="225.61" font-size="6.1" font-weight="normal" text-anchor="end" fill="#4a4a4a" stroke="#4a4a4a" stroke-width="0.18" >JAK2</text>
<text x="122.30" y="232.50" font-size="6.1" font-weight="normal" text-anchor="end" fill="#4a4a4a" stroke="#4a4a4a" stroke-width="0.18" >IRF4</text>
<text x="122.30" y="239.39" font-size="6.1" font-weight="normal" text-anchor="end" fill="#4a4a4a" stroke="#4a4a4a" stroke-width="0.18" >CXCR4</text>
<text x="122.30" y="246.28" font-size="6.1" font-weight="bold" text-anchor="end" fill="#000" stroke="#000" stroke-width="0.14" >HLA gene cluster</text>
<text x="122.30" y="253.16" font-size="6.1" font-weight="normal" text-anchor="end" fill="#4a4a4a" stroke="#4a4a4a" stroke-width="0.18" >CD274 (PD-L1)</text>
<text x="122.30" y="260.05" font-size="6.1" font-weight="normal" text-anchor="end" fill="#4a4a4a" stroke="#4a4a4a" stroke-width="0.18" >ARID5B</text>
<text x="122.30" y="266.94" font-size="6.1" font-weight="normal" text-anchor="end" fill="#4a4a4a" stroke="#4a4a4a" stroke-width="0.18" >KMT2D</text>
<text x="122.30" y="273.83" font-size="6.1" font-weight="normal" text-anchor="end" fill="#4a4a4a" stroke="#4a4a4a" stroke-width="0.18" >EP300</text>
<text x="122.30" y="280.72" font-size="6.1" font-weight="normal" text-anchor="end" fill="#4a4a4a" stroke="#4a4a4a" stroke-width="0.18" >CREBBP</text>
<text x="122.30" y="287.60" font-size="6.1" font-weight="normal" text-anchor="end" fill="#4a4a4a" stroke="#4a4a4a" stroke-width="0.18" >NIPBL</text>
<text x="122.30" y="294.49" font-size="6.1" font-weight="normal" text-anchor="end" fill="#4a4a4a" stroke="#4a4a4a" stroke-width="0.18" >EZH2</text>
<text x="122.30" y="301.38" font-size="6.1" font-weight="normal" text-anchor="end" fill="#4a4a4a" stroke="#4a4a4a" stroke-width="0.18" >XPO1</text>
<text x="122.30" y="308.27" font-size="6.1" font-weight="normal" text-anchor="end" fill="#4a4a4a" stroke="#4a4a4a" stroke-width="0.18" >FBXW7</text>
<text x="122.30" y="315.16" font-size="6.1" font-weight="normal" text-anchor="end" fill="#4a4a4a" stroke="#4a4a4a" stroke-width="0.18" >PTEN</text>
<text x="122.30" y="322.04" font-size="6.1" font-weight="normal" text-anchor="end" fill="#4a4a4a" stroke="#4a4a4a" stroke-width="0.18" >RHOA</text>
<text x="122.30" y="328.93" font-size="6.0" font-weight="normal" text-anchor="end" fill="#222" stroke="#222" stroke-width="0.18" >CNV status</text>
<text x="209.70" y="95.74" font-size="6.2" font-weight="bold" text-anchor="start" fill="#000" stroke="#000" stroke-width="0.14" >0%</text>
<text x="209.70" y="102.63" font-size="6.2" font-weight="bold" text-anchor="start" fill="#000" stroke="#000" stroke-width="0.14" >50%</text>
<text x="209.70" y="109.52" font-size="6.2" font-weight="bold" text-anchor="start" fill="#000" stroke="#000" stroke-width="0.14" >50%</text>
<text x="209.70" y="116.40" font-size="6.2" font-weight="normal" text-anchor="start" fill="#4a4a4a" stroke="#4a4a4a" stroke-width="0.18" >0%</text>
<text x="209.70" y="123.29" font-size="6.2" font-weight="normal" text-anchor="start" fill="#4a4a4a" stroke="#4a4a4a" stroke-width="0.18" >13%</text>
<text x="209.70" y="130.18" font-size="6.2" font-weight="bold" text-anchor="start" fill="#000" stroke="#000" stroke-width="0.14" >75%</text>
<text x="209.70" y="137.07" font-size="6.2" font-weight="bold" text-anchor="start" fill="#000" stroke="#000" stroke-width="0.14" >0%</text>
<text x="209.70" y="143.96" font-size="6.2" font-weight="bold" text-anchor="start" fill="#000" stroke="#000" stroke-width="0.14" >13%</text>
<text x="209.70" y="150.84" font-size="6.2" font-weight="normal" text-anchor="start" fill="#4a4a4a" stroke="#4a4a4a" stroke-width="0.18" >0%</text>
<text x="209.70" y="157.73" font-size="6.2" font-weight="normal" text-anchor="start" fill="#4a4a4a" stroke="#4a4a4a" stroke-width="0.18" >13%</text>
<text x="209.70" y="164.62" font-size="6.2" font-weight="bold" text-anchor="start" fill="#000" stroke="#000" stroke-width="0.14" >13%</text>
<text x="209.70" y="171.51" font-size="6.2" font-weight="normal" text-anchor="start" fill="#4a4a4a" stroke="#4a4a4a" stroke-width="0.18" >25%</text>
<text x="209.70" y="178.40" font-size="6.2" font-weight="normal" text-anchor="start" fill="#4a4a4a" stroke="#4a4a4a" stroke-width="0.18" >0%</text>
<text x="209.70" y="185.28" font-size="6.2" font-weight="normal" text-anchor="start" fill="#4a4a4a" stroke="#4a4a4a" stroke-width="0.18" >0%</text>
<text x="209.70" y="192.17" font-size="6.2" font-weight="normal" text-anchor="start" fill="#4a4a4a" stroke="#4a4a4a" stroke-width="0.18" >13%</text>
<text x="209.70" y="199.06" font-size="6.2" font-weight="normal" text-anchor="start" fill="#4a4a4a" stroke="#4a4a4a" stroke-width="0.18" >13%</text>
<text x="209.70" y="205.95" font-size="6.2" font-weight="normal" text-anchor="start" fill="#4a4a4a" stroke="#4a4a4a" stroke-width="0.18" >13%</text>
<text x="209.70" y="212.84" font-size="6.2" font-weight="bold" text-anchor="start" fill="#000" stroke="#000" stroke-width="0.14" >13%</text>
<text x="209.70" y="219.72" font-size="6.2" font-weight="normal" text-anchor="start" fill="#4a4a4a" stroke="#4a4a4a" stroke-width="0.18" >13%</text>
<text x="209.70" y="226.61" font-size="6.2" font-weight="normal" text-anchor="start" fill="#4a4a4a" stroke="#4a4a4a" stroke-width="0.18" >13%</text>
<text x="209.70" y="233.50" font-size="6.2" font-weight="normal" text-anchor="start" fill="#4a4a4a" stroke="#4a4a4a" stroke-width="0.18" >0%</text>
<text x="209.70" y="240.39" font-size="6.2" font-weight="normal" text-anchor="start" fill="#4a4a4a" stroke="#4a4a4a" stroke-width="0.18" >0%</text>
<text x="209.70" y="247.28" font-size="6.2" font-weight="bold" text-anchor="start" fill="#000" stroke="#000" stroke-width="0.14" >0%</text>
<text x="209.70" y="254.16" font-size="6.2" font-weight="normal" text-anchor="start" fill="#4a4a4a" stroke="#4a4a4a" stroke-width="0.18" >13%</text>
<text x="209.70" y="261.05" font-size="6.2" font-weight="normal" text-anchor="start" fill="#4a4a4a" stroke="#4a4a4a" stroke-width="0.18" >0%</text>
<text x="209.70" y="267.94" font-size="6.2" font-weight="normal" text-anchor="start" fill="#4a4a4a" stroke="#4a4a4a" stroke-width="0.18" >13%</text>
<text x="209.70" y="274.83" font-size="6.2" font-weight="normal" text-anchor="start" fill="#4a4a4a" stroke="#4a4a4a" stroke-width="0.18" >13%</text>
<text x="209.70" y="281.72" font-size="6.2" font-weight="normal" text-anchor="start" fill="#4a4a4a" stroke="#4a4a4a" stroke-width="0.18" >13%</text>
<text x="209.70" y="288.60" font-size="6.2" font-weight="normal" text-anchor="start" fill="#4a4a4a" stroke="#4a4a4a" stroke-width="0.18" >0%</text>
<text x="209.70" y="295.49" font-size="6.2" font-weight="normal" text-anchor="start" fill="#4a4a4a" stroke="#4a4a4a" stroke-width="0.18" >13%</text>
<text x="209.70" y="302.38" font-size="6.2" font-weight="normal" text-anchor="start" fill="#4a4a4a" stroke="#4a4a4a" stroke-width="0.18" >0%</text>
<text x="209.70" y="309.27" font-size="6.2" font-weight="normal" text-anchor="start" fill="#4a4a4a" stroke="#4a4a4a" stroke-width="0.18" >0%</text>
<text x="209.70" y="316.16" font-size="6.2" font-weight="normal" text-anchor="start" fill="#4a4a4a" stroke="#4a4a4a" stroke-width="0.18" >0%</text>
<text x="209.70" y="323.04" font-size="6.2" font-weight="normal" text-anchor="start" fill="#4a4a4a" stroke="#4a4a4a" stroke-width="0.18" >0%</text>
<text x="279.10" y="95.74" font-size="6.2" font-weight="bold" text-anchor="start" fill="#000" stroke="#000" stroke-width="0.14" >100%</text>
<text x="279.10" y="102.63" font-size="6.2" font-weight="bold" text-anchor="start" fill="#000" stroke="#000" stroke-width="0.14" >0%</text>
<text x="279.10" y="109.52" font-size="6.2" font-weight="bold" text-anchor="start" fill="#000" stroke="#000" stroke-width="0.14" >0%</text>
<text x="279.10" y="116.40" font-size="6.2" font-weight="normal" text-anchor="start" fill="#4a4a4a" stroke="#4a4a4a" stroke-width="0.18" >0%</text>
<text x="279.10" y="123.29" font-size="6.2" font-weight="normal" text-anchor="start" fill="#4a4a4a" stroke="#4a4a4a" stroke-width="0.18" >0%</text>
<text x="279.10" y="130.18" font-size="6.2" font-weight="bold" text-anchor="start" fill="#000" stroke="#000" stroke-width="0.14" >25%</text>
<text x="279.10" y="137.07" font-size="6.2" font-weight="bold" text-anchor="start" fill="#000" stroke="#000" stroke-width="0.14" >75%</text>
<text x="279.10" y="143.96" font-size="6.2" font-weight="bold" text-anchor="start" fill="#000" stroke="#000" stroke-width="0.14" >25%</text>
<text x="279.10" y="150.84" font-size="6.2" font-weight="normal" text-anchor="start" fill="#4a4a4a" stroke="#4a4a4a" stroke-width="0.18" >25%</text>
<text x="279.10" y="157.73" font-size="6.2" font-weight="normal" text-anchor="start" fill="#4a4a4a" stroke="#4a4a4a" stroke-width="0.18" >0%</text>
<text x="279.10" y="164.62" font-size="6.2" font-weight="bold" text-anchor="start" fill="#000" stroke="#000" stroke-width="0.14" >25%</text>
<text x="279.10" y="171.51" font-size="6.2" font-weight="normal" text-anchor="start" fill="#4a4a4a" stroke="#4a4a4a" stroke-width="0.18" >25%</text>
<text x="279.10" y="178.40" font-size="6.2" font-weight="normal" text-anchor="start" fill="#4a4a4a" stroke="#4a4a4a" stroke-width="0.18" >0%</text>
<text x="279.10" y="185.28" font-size="6.2" font-weight="normal" text-anchor="start" fill="#4a4a4a" stroke="#4a4a4a" stroke-width="0.18" >0%</text>
<text x="279.10" y="192.17" font-size="6.2" font-weight="normal" text-anchor="start" fill="#4a4a4a" stroke="#4a4a4a" stroke-width="0.18" >0%</text>
<text x="279.10" y="199.06" font-size="6.2" font-weight="normal" text-anchor="start" fill="#4a4a4a" stroke="#4a4a4a" stroke-width="0.18" >0%</text>
<text x="279.10" y="205.95" font-size="6.2" font-weight="normal" text-anchor="start" fill="#4a4a4a" stroke="#4a4a4a" stroke-width="0.18" >0%</text>
<text x="279.10" y="212.84" font-size="6.2" font-weight="bold" text-anchor="start" fill="#000" stroke="#000" stroke-width="0.14" >75%</text>
<text x="279.10" y="219.72" font-size="6.2" font-weight="normal" text-anchor="start" fill="#4a4a4a" stroke="#4a4a4a" stroke-width="0.18" >0%</text>
<text x="279.10" y="226.61" font-size="6.2" font-weight="normal" text-anchor="start" fill="#4a4a4a" stroke="#4a4a4a" stroke-width="0.18" >0%</text>
<text x="279.10" y="233.50" font-size="6.2" font-weight="normal" text-anchor="start" fill="#4a4a4a" stroke="#4a4a4a" stroke-width="0.18" >0%</text>
<text x="279.10" y="240.39" font-size="6.2" font-weight="normal" text-anchor="start" fill="#4a4a4a" stroke="#4a4a4a" stroke-width="0.18" >25%</text>
<text x="279.10" y="247.28" font-size="6.2" font-weight="bold" text-anchor="start" fill="#000" stroke="#000" stroke-width="0.14" >50%</text>
<text x="279.10" y="254.16" font-size="6.2" font-weight="normal" text-anchor="start" fill="#4a4a4a" stroke="#4a4a4a" stroke-width="0.18" >0%</text>
<text x="279.10" y="261.05" font-size="6.2" font-weight="normal" text-anchor="start" fill="#4a4a4a" stroke="#4a4a4a" stroke-width="0.18" >25%</text>
<text x="279.10" y="267.94" font-size="6.2" font-weight="normal" text-anchor="start" fill="#4a4a4a" stroke="#4a4a4a" stroke-width="0.18" >0%</text>
<text x="279.10" y="274.83" font-size="6.2" font-weight="normal" text-anchor="start" fill="#4a4a4a" stroke="#4a4a4a" stroke-width="0.18" >0%</text>
<text x="279.10" y="281.72" font-size="6.2" font-weight="normal" text-anchor="start" fill="#4a4a4a" stroke="#4a4a4a" stroke-width="0.18" >0%</text>
<text x="279.10" y="288.60" font-size="6.2" font-weight="normal" text-anchor="start" fill="#4a4a4a" stroke="#4a4a4a" stroke-width="0.18" >0%</text>
<text x="279.10" y="295.49" font-size="6.2" font-weight="normal" text-anchor="start" fill="#4a4a4a" stroke="#4a4a4a" stroke-width="0.18" >0%</text>
<text x="279.10" y="302.38" font-size="6.2" font-weight="normal" text-anchor="start" fill="#4a4a4a" stroke="#4a4a4a" stroke-width="0.18" >0%</text>
<text x="279.10" y="309.27" font-size="6.2" font-weight="normal" text-anchor="start" fill="#4a4a4a" stroke="#4a4a4a" stroke-width="0.18" >0%</text>
<text x="279.10" y="316.16" font-size="6.2" font-weight="normal" text-anchor="start" fill="#4a4a4a" stroke="#4a4a4a" stroke-width="0.18" >0%</text>
<text x="279.10" y="323.04" font-size="6.2" font-weight="normal" text-anchor="start" fill="#4a4a4a" stroke="#4a4a4a" stroke-width="0.18" >0%</text>
<text x="364.30" y="95.74" font-size="6.2" font-weight="bold" text-anchor="start" fill="#000" stroke="#000" stroke-width="0.14" >100%</text>
<text x="364.30" y="102.63" font-size="6.2" font-weight="bold" text-anchor="start" fill="#000" stroke="#000" stroke-width="0.14" >17%</text>
<text x="364.30" y="109.52" font-size="6.2" font-weight="bold" text-anchor="start" fill="#000" stroke="#000" stroke-width="0.14" >17%</text>
<text x="364.30" y="116.40" font-size="6.2" font-weight="normal" text-anchor="start" fill="#4a4a4a" stroke="#4a4a4a" stroke-width="0.18" >0%</text>
<text x="364.30" y="123.29" font-size="6.2" font-weight="normal" text-anchor="start" fill="#4a4a4a" stroke="#4a4a4a" stroke-width="0.18" >17%</text>
<text x="364.30" y="130.18" font-size="6.2" font-weight="bold" text-anchor="start" fill="#000" stroke="#000" stroke-width="0.14" >0%</text>
<text x="364.30" y="137.07" font-size="6.2" font-weight="bold" text-anchor="start" fill="#000" stroke="#000" stroke-width="0.14" >83%</text>
<text x="364.30" y="143.96" font-size="6.2" font-weight="bold" text-anchor="start" fill="#000" stroke="#000" stroke-width="0.14" >50%</text>
<text x="364.30" y="150.84" font-size="6.2" font-weight="normal" text-anchor="start" fill="#4a4a4a" stroke="#4a4a4a" stroke-width="0.18" >0%</text>
<text x="364.30" y="157.73" font-size="6.2" font-weight="normal" text-anchor="start" fill="#4a4a4a" stroke="#4a4a4a" stroke-width="0.18" >0%</text>
<text x="364.30" y="164.62" font-size="6.2" font-weight="bold" text-anchor="start" fill="#000" stroke="#000" stroke-width="0.14" >50%</text>
<text x="364.30" y="171.51" font-size="6.2" font-weight="normal" text-anchor="start" fill="#4a4a4a" stroke="#4a4a4a" stroke-width="0.18" >0%</text>
<text x="364.30" y="178.40" font-size="6.2" font-weight="normal" text-anchor="start" fill="#4a4a4a" stroke="#4a4a4a" stroke-width="0.18" >17%</text>
<text x="364.30" y="185.28" font-size="6.2" font-weight="normal" text-anchor="start" fill="#4a4a4a" stroke="#4a4a4a" stroke-width="0.18" >17%</text>
<text x="364.30" y="192.17" font-size="6.2" font-weight="normal" text-anchor="start" fill="#4a4a4a" stroke="#4a4a4a" stroke-width="0.18" >17%</text>
<text x="364.30" y="199.06" font-size="6.2" font-weight="normal" text-anchor="start" fill="#4a4a4a" stroke="#4a4a4a" stroke-width="0.18" >0%</text>
<text x="364.30" y="205.95" font-size="6.2" font-weight="normal" text-anchor="start" fill="#4a4a4a" stroke="#4a4a4a" stroke-width="0.18" >0%</text>
<text x="364.30" y="212.84" font-size="6.2" font-weight="bold" text-anchor="start" fill="#000" stroke="#000" stroke-width="0.14" >50%</text>
<text x="364.30" y="219.72" font-size="6.2" font-weight="normal" text-anchor="start" fill="#4a4a4a" stroke="#4a4a4a" stroke-width="0.18" >17%</text>
<text x="364.30" y="226.61" font-size="6.2" font-weight="normal" text-anchor="start" fill="#4a4a4a" stroke="#4a4a4a" stroke-width="0.18" >0%</text>
<text x="364.30" y="233.50" font-size="6.2" font-weight="normal" text-anchor="start" fill="#4a4a4a" stroke="#4a4a4a" stroke-width="0.18" >17%</text>
<text x="364.30" y="240.39" font-size="6.2" font-weight="normal" text-anchor="start" fill="#4a4a4a" stroke="#4a4a4a" stroke-width="0.18" >17%</text>
<text x="364.30" y="247.28" font-size="6.2" font-weight="bold" text-anchor="start" fill="#000" stroke="#000" stroke-width="0.14" >67%</text>
<text x="364.30" y="254.16" font-size="6.2" font-weight="normal" text-anchor="start" fill="#4a4a4a" stroke="#4a4a4a" stroke-width="0.18" >0%</text>
<text x="364.30" y="261.05" font-size="6.2" font-weight="normal" text-anchor="start" fill="#4a4a4a" stroke="#4a4a4a" stroke-width="0.18" >0%</text>
<text x="364.30" y="267.94" font-size="6.2" font-weight="normal" text-anchor="start" fill="#4a4a4a" stroke="#4a4a4a" stroke-width="0.18" >33%</text>
<text x="364.30" y="274.83" font-size="6.2" font-weight="normal" text-anchor="start" fill="#4a4a4a" stroke="#4a4a4a" stroke-width="0.18" >0%</text>
<text x="364.30" y="281.72" font-size="6.2" font-weight="normal" text-anchor="start" fill="#4a4a4a" stroke="#4a4a4a" stroke-width="0.18" >0%</text>
<text x="364.30" y="288.60" font-size="6.2" font-weight="normal" text-anchor="start" fill="#4a4a4a" stroke="#4a4a4a" stroke-width="0.18" >17%</text>
<text x="364.30" y="295.49" font-size="6.2" font-weight="normal" text-anchor="start" fill="#4a4a4a" stroke="#4a4a4a" stroke-width="0.18" >0%</text>
<text x="364.30" y="302.38" font-size="6.2" font-weight="normal" text-anchor="start" fill="#4a4a4a" stroke="#4a4a4a" stroke-width="0.18" >17%</text>
<text x="364.30" y="309.27" font-size="6.2" font-weight="normal" text-anchor="start" fill="#4a4a4a" stroke="#4a4a4a" stroke-width="0.18" >17%</text>
<text x="364.30" y="316.16" font-size="6.2" font-weight="normal" text-anchor="start" fill="#4a4a4a" stroke="#4a4a4a" stroke-width="0.18" >17%</text>
<text x="364.30" y="323.04" font-size="6.2" font-weight="normal" text-anchor="start" fill="#4a4a4a" stroke="#4a4a4a" stroke-width="0.18" >17%</text>
<rect x="67.20" y="90.34" width="2.00" height="32.84" fill="#dcdcdc" />
<text x="63.90" y="109.26" font-size="5.9" font-weight="normal" text-anchor="end" fill="#333" stroke="#333" stroke-width="0.18" >NF-kB signaling</text>
<rect x="67.20" y="124.08" width="2.00" height="6.89" fill="#6e6e6e" />
<text x="63.90" y="129.92" font-size="5.9" font-weight="normal" text-anchor="end" fill="#333" stroke="#333" stroke-width="0.18" >Genome maintenance</text>
<rect x="67.20" y="131.67" width="2.00" height="25.95" fill="#dcdcdc" />
<text x="63.90" y="147.14" font-size="5.9" font-weight="normal" text-anchor="end" fill="#333" stroke="#333" stroke-width="0.18" >Cell cycle regulation</text>
<rect x="67.20" y="158.52" width="2.00" height="48.22" fill="#6e6e6e" />
<text x="63.90" y="181.23" font-size="5.9" font-weight="normal" text-anchor="end" fill="#333" stroke="#333" stroke-width="0.18" >Hematopoiesis and</text>
<text x="63.90" y="188.83" font-size="5.9" font-weight="normal" text-anchor="end" fill="#333" stroke="#333" stroke-width="0.18" >B-cell development</text>
<rect x="67.20" y="207.44" width="2.00" height="46.62" fill="#dcdcdc" />
<text x="63.90" y="229.44" font-size="5.9" font-weight="normal" text-anchor="end" fill="#333" stroke="#333" stroke-width="0.18" >Immune function</text>
<text x="63.90" y="237.04" font-size="5.9" font-weight="normal" text-anchor="end" fill="#333" stroke="#333" stroke-width="0.18" >and signaling</text>
<rect x="67.20" y="254.95" width="2.00" height="41.33" fill="#6e6e6e" />
<text x="63.90" y="274.22" font-size="5.9" font-weight="normal" text-anchor="end" fill="#333" stroke="#333" stroke-width="0.18" >Chromatin</text>
<text x="63.90" y="281.82" font-size="5.9" font-weight="normal" text-anchor="end" fill="#333" stroke="#333" stroke-width="0.18" >modulation</text>
<rect x="67.20" y="296.98" width="2.00" height="25.95" fill="#dcdcdc" />
<text x="63.90" y="312.46" font-size="5.9" font-weight="normal" text-anchor="end" fill="#333" stroke="#333" stroke-width="0.18" >Other pathways</text>
<text x="388.00" y="45.00" font-size="6.2" font-weight="bold" text-anchor="start" fill="#111" stroke="#111" stroke-width="0.26" >Sex</text>
<line x1="388.00" y1="45.55" x2="399.03" y2="45.55" stroke="#222" stroke-width="0.7"/>
<rect x="386.50" y="48.30" width="10.80" height="7.90" fill="#1f4f7a" />
<text x="400.80" y="55.20" font-size="6.9" font-weight="normal" text-anchor="start" fill="#1a1a1a" stroke="#1a1a1a" stroke-width="0.08" >Male</text>
<rect x="386.50" y="59.10" width="10.80" height="7.10" fill="#ea6492" />
<text x="400.80" y="65.20" font-size="6.9" font-weight="normal" text-anchor="start" fill="#1a1a1a" stroke="#1a1a1a" stroke-width="0.08" >Female</text>
<text x="388.00" y="85.60" font-size="6.2" font-weight="bold" text-anchor="start" fill="#111" stroke="#111" stroke-width="0.26" >Location</text>
<line x1="388.00" y1="86.55" x2="413.83" y2="86.55" stroke="#222" stroke-width="0.7"/>
<rect x="386.50" y="89.20" width="10.80" height="6.80" fill="#f7ec16" />
<text x="400.80" y="95.10" font-size="6.9" font-weight="normal" text-anchor="start" fill="#1a1a1a" stroke="#1a1a1a" stroke-width="0.08" >Supratentorial</text>
<rect x="386.50" y="99.10" width="10.80" height="6.80" fill="#08ae4e" />
<text x="400.80" y="105.00" font-size="6.9" font-weight="normal" text-anchor="start" fill="#1a1a1a" stroke="#1a1a1a" stroke-width="0.08" >Infratentorial</text>
<rect x="386.50" y="109.10" width="10.80" height="6.80" fill="#2cace4" />
<text x="400.80" y="115.00" font-size="6.9" font-weight="normal" text-anchor="start" fill="#1a1a1a" stroke="#1a1a1a" stroke-width="0.08" >Supratentorial + Infratentorial</text>
<rect x="386.50" y="119.00" width="10.80" height="6.80" fill="#c0c0c0" />
<text x="400.80" y="124.90" font-size="6.9" font-weight="normal" text-anchor="start" fill="#1a1a1a" stroke="#1a1a1a" stroke-width="0.08" >Not available</text>
<text x="388.00" y="145.00" font-size="6.2" font-weight="bold" text-anchor="start" fill="#111" stroke="#111" stroke-width="0.26" >Cell of origin subtype by IHC</text>
<line x1="388.00" y1="145.55" x2="472.73" y2="145.55" stroke="#222" stroke-width="0.7"/>
<rect x="386.50" y="148.60" width="10.80" height="6.80" fill="#c85c26" />
<text x="400.80" y="154.50" font-size="6.9" font-weight="normal" text-anchor="start" fill="#1a1a1a" stroke="#1a1a1a" stroke-width="0.08" >Germinal center type</text>
<rect x="386.50" y="158.80" width="10.80" height="6.80" fill="#fde4d6" />
<text x="400.80" y="164.70" font-size="6.9" font-weight="normal" text-anchor="start" fill="#1a1a1a" stroke="#1a1a1a" stroke-width="0.08" >Non-germinal center (ABC) type</text>
<text x="388.00" y="185.00" font-size="6.2" font-weight="bold" text-anchor="start" fill="#111" stroke="#111" stroke-width="0.26" >Genetic alterations</text>
<line x1="388.00" y1="185.55" x2="443.81" y2="185.55" stroke="#222" stroke-width="0.7"/>
<rect x="386.50" y="188.00" width="10.80" height="6.80" fill="#1f4f7a" />
<text x="400.80" y="193.30" font-size="6.9" font-weight="normal" text-anchor="start" fill="#1a1a1a" stroke="#1a1a1a" stroke-width="0.08" >Homozygous deletion</text>
<rect x="386.50" y="198.30" width="10.80" height="6.80" fill="#ea6492" />
<text x="400.80" y="204.20" font-size="6.9" font-weight="normal" text-anchor="start" fill="#1a1a1a" stroke="#1a1a1a" stroke-width="0.08" >Focal amplification</text>
<rect x="386.50" y="208.20" width="10.80" height="6.80" fill="#5c9bd2" />
<text x="400.80" y="214.10" font-size="6.9" font-weight="normal" text-anchor="start" fill="#1a1a1a" stroke="#1a1a1a" stroke-width="0.08" >Truncating mutation</text>
<text x="400.80" y="222.20" font-size="6.9" font-weight="normal" text-anchor="start" fill="#1a1a1a" stroke="#1a1a1a" stroke-width="0.08" >(nonsense, frameshift, splice site)</text>
<rect x="386.50" y="227.40" width="10.80" height="6.80" fill="#ed2024" />
<text x="400.80" y="233.30" font-size="6.9" font-weight="normal" text-anchor="start" fill="#1a1a1a" stroke="#1a1a1a" stroke-width="0.08" >Missense mutation</text>
<rect x="386.50" y="237.40" width="10.80" height="6.80" fill="#fec010" />
<text x="400.80" y="243.30" font-size="6.9" font-weight="normal" text-anchor="start" fill="#1a1a1a" stroke="#1a1a1a" stroke-width="0.08" >Localized somatic hypermutation</text>
<rect x="386.70" y="247.70" width="11.10" height="7.1" fill="#fff" stroke="#333" stroke-width="1.0" rx="1.2"/>
<text x="400.80" y="253.60" font-size="6.9" font-weight="normal" text-anchor="start" fill="#1a1a1a" stroke="#1a1a1a" stroke-width="0.08" >No pathogenic alteration detected</text>
<text x="388.00" y="273.60" font-size="6.2" font-weight="bold" text-anchor="start" fill="#111" stroke="#111" stroke-width="0.26" >CNV status</text>
<line x1="388.00" y1="274.55" x2="421.07" y2="274.55" stroke="#222" stroke-width="0.7"/>
<rect x="386.50" y="277.50" width="10.80" height="6.80" fill="#000000" />
<text x="400.80" y="283.40" font-size="6.9" font-weight="normal" text-anchor="start" fill="#1a1a1a" stroke="#1a1a1a" stroke-width="0.08" >High (5+ chromosomal gains/losses)</text>
<rect x="386.50" y="287.40" width="10.80" height="6.80" fill="#d9d9d9" />
<text x="400.80" y="293.30" font-size="6.9" font-weight="normal" text-anchor="start" fill="#1a1a1a" stroke="#1a1a1a" stroke-width="0.08" >Low (&lt;5 chromosomal gains/losses)</text>
</g>
<rect x="0.5" y="0.5" width="519" height="337" fill="none" stroke="#000" stroke-width="1.2"/></svg>
</body></html>
